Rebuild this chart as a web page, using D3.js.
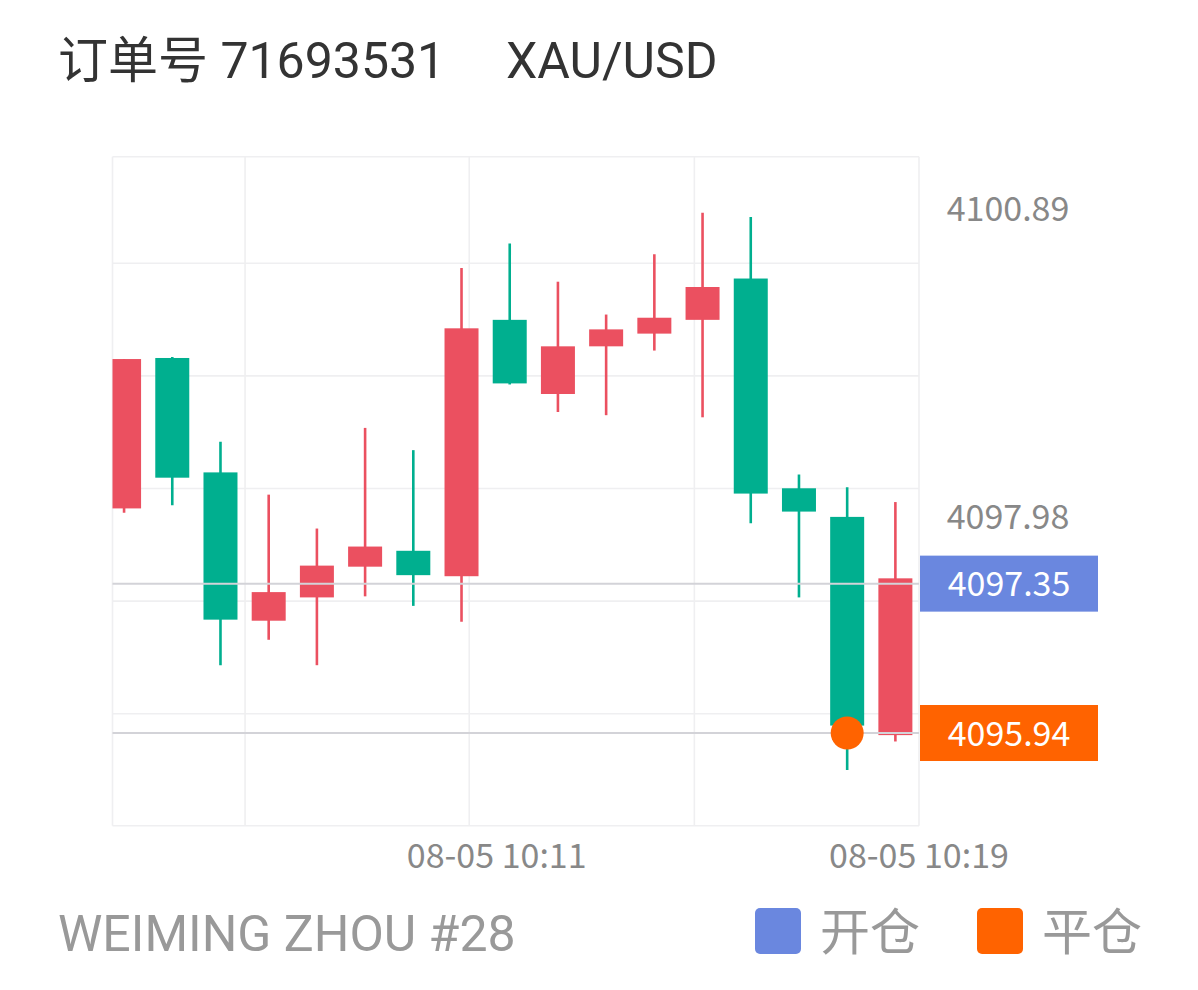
<!DOCTYPE html>
<html>
<head>
<meta charset="utf-8">
<script src="https://cdn.jsdelivr.net/npm/d3@7/dist/d3.min.js"></script>
<style>
  html, body { margin: 0; padding: 0; background: #fff; }
  svg { display: block; }
</style>
</head>
<body>
<svg id="chart" width="1198" height="990"></svg>
<script>
// ---- data ----
const orderTitle = "订单号 71693531";
const symbol = "XAU/USD";
const footerText = "WEIMING ZHOU #28";
const legendLabels = ["开仓", "平仓"];

const opens  = [4098.06, 4099.48, 4098.40, 4097.00, 4097.22, 4097.51, 4097.66, 4097.42, 4099.84, 4099.14, 4099.59, 4099.71, 4099.84, 4100.23, 4098.25, 4097.98, 4095.92];
const closes = [4099.47, 4098.35, 4097.01, 4097.27, 4097.52, 4097.70, 4097.43, 4099.76, 4099.24, 4099.59, 4099.75, 4099.86, 4100.15, 4098.20, 4098.03, 4096.01, 4097.40];
const highs  = [4099.47, 4099.49, 4098.69, 4098.19, 4097.87, 4098.82, 4098.61, 4100.33, 4100.56, 4100.20, 4099.89, 4100.46, 4100.85, 4100.81, 4098.38, 4098.26, 4098.12];
const lows   = [4098.02, 4098.09, 4096.58, 4096.82, 4096.58, 4097.23, 4097.14, 4096.99, 4099.23, 4098.97, 4098.94, 4099.55, 4098.92, 4097.92, 4097.22, 4095.59, 4095.86];

const yDomain = [4095.065, 4101.38];
const xDomain = [-0.24, 16.49];
const yAxisValues = [4100.89, 4097.98];
const yGridValues = [4096.122, 4097.185, 4098.248, 4099.311, 4100.374];
const xTickLabels = ["08-05 10:11", "08-05 10:19"];
const xTickIndex = [7.73, 16.49];
const xGridIndex = [2.51, 7.16, 11.83];

const openPrice = 4097.35;
const closePrice = 4095.94;
const closeIndex = 15;

// ---- layout / style ----
const plot = { left: 112.5, right: 919, top: 156.7, bottom: 825.7 };
const upColor = "#EB5060";
const downColor = "#00AF8F";
const openColor = "#6A87DF";
const closeColor = "#FF6300";
const gridColor = "#efeff1";
const lineColor = "#d3d3d8";
const cjk = "Roboto, 'Noto Sans CJK SC', sans-serif";
const axisFont = "'Noto Sans CJK SC', 'Source Sans Pro', sans-serif";

const svg = d3.select("#chart");

const x = d3.scaleLinear().domain(xDomain).range([plot.left, plot.right]);
const y = d3.scaleLinear().domain(yDomain).range([plot.bottom, plot.top]);

const candles = opens.map((o, i) => ({ i, o, c: closes[i], h: highs[i], l: lows[i] }));

// title
svg.append("text").attr("x", 58).attr("y", 77.5)
  .attr("font-family", cjk).attr("font-size", 50).attr("fill", "#333")
  .text(orderTitle);
svg.append("text").attr("x", 506).attr("y", 77.5)
  .attr("font-family", cjk).attr("font-size", 50).attr("fill", "#333")
  .text(symbol);

// grid
const g = svg.append("g");
g.selectAll("line.h").data([yDomain[0], ...yGridValues, yDomain[1]]).join("line")
  .attr("x1", plot.left).attr("x2", plot.right)
  .attr("y1", d => y(d)).attr("y2", d => y(d))
  .attr("stroke", gridColor).attr("stroke-width", 1.6);
g.selectAll("line.v").data([xDomain[0], ...xGridIndex, xDomain[1]]).join("line")
  .attr("x1", d => x(d)).attr("x2", d => x(d))
  .attr("y1", plot.top).attr("y2", plot.bottom)
  .attr("stroke", gridColor).attr("stroke-width", 1.6);

// clip
svg.append("defs").append("clipPath").attr("id", "clip")
  .append("rect").attr("x", plot.left).attr("y", plot.top)
  .attr("width", plot.right - plot.left).attr("height", plot.bottom - plot.top);

const cg = svg.append("g").attr("clip-path", "url(#clip)");
const bodyW = 34;
const cs = cg.selectAll("g.c").data(candles).join("g");
cs.append("line")
  .attr("x1", d => x(d.i)).attr("x2", d => x(d.i))
  .attr("y1", d => y(d.h)).attr("y2", d => y(d.l))
  .attr("stroke", d => d.c >= d.o ? upColor : downColor).attr("stroke-width", 2.6);
cs.append("rect")
  .attr("x", d => x(d.i) - bodyW / 2).attr("width", bodyW)
  .attr("y", d => y(Math.max(d.o, d.c)))
  .attr("height", d => Math.max(1, Math.abs(y(d.o) - y(d.c))))
  .attr("fill", d => d.c >= d.o ? upColor : downColor);

// price lines
[openPrice, closePrice].forEach(p => {
  svg.append("line").attr("x1", plot.left).attr("x2", plot.right)
    .attr("y1", y(p)).attr("y2", y(p))
    .attr("stroke", lineColor).attr("stroke-width", 2);
});

// close marker
svg.append("circle").attr("cx", x(closeIndex)).attr("cy", y(closePrice)).attr("r", 16.5)
  .attr("fill", closeColor);

// y labels
svg.selectAll("text.ylab").data(yAxisValues).join("text")
  .attr("x", 1008).attr("y", d => y(d) + 12.6)
  .attr("text-anchor", "middle").attr("font-family", axisFont).attr("font-size", 34)
  .attr("fill", "#888").text(d => d.toFixed(2));

// price label boxes
[[openPrice, openColor], [closePrice, closeColor]].forEach(([p, col]) => {
  svg.append("rect").attr("x", 920).attr("width", 178)
    .attr("y", y(p) - 28).attr("height", 56).attr("fill", col);
  svg.append("text").attr("x", 1009).attr("y", y(p) + 12.6)
    .attr("text-anchor", "middle").attr("font-family", axisFont).attr("font-size", 34)
    .attr("fill", "#fff").text(p.toFixed(2));
});

// x labels
svg.selectAll("text.xlab").data(xTickLabels).join("text")
  .attr("x", (d, k) => x(xTickIndex[k])).attr("y", 868)
  .attr("text-anchor", "middle").attr("font-family", axisFont).attr("font-size", 34)
  .attr("fill", "#888").text(d => d);

// footer
svg.append("text").attr("x", 58).attr("y", 951)
  .attr("font-family", cjk).attr("font-size", 50).attr("fill", "#999")
  .text(footerText);

// legend
const legendX = [755, 977];
const legendColors = [openColor, closeColor];
legendLabels.forEach((lab, k) => {
  svg.append("rect").attr("x", legendX[k]).attr("y", 908).attr("width", 46).attr("height", 46)
    .attr("rx", 5).attr("fill", legendColors[k]);
  svg.append("text").attr("x", legendX[k] + 65).attr("y", 950)
    .attr("font-family", cjk).attr("font-size", 50).attr("fill", "#999").text(lab);
});
</script>
</body>
</html>
